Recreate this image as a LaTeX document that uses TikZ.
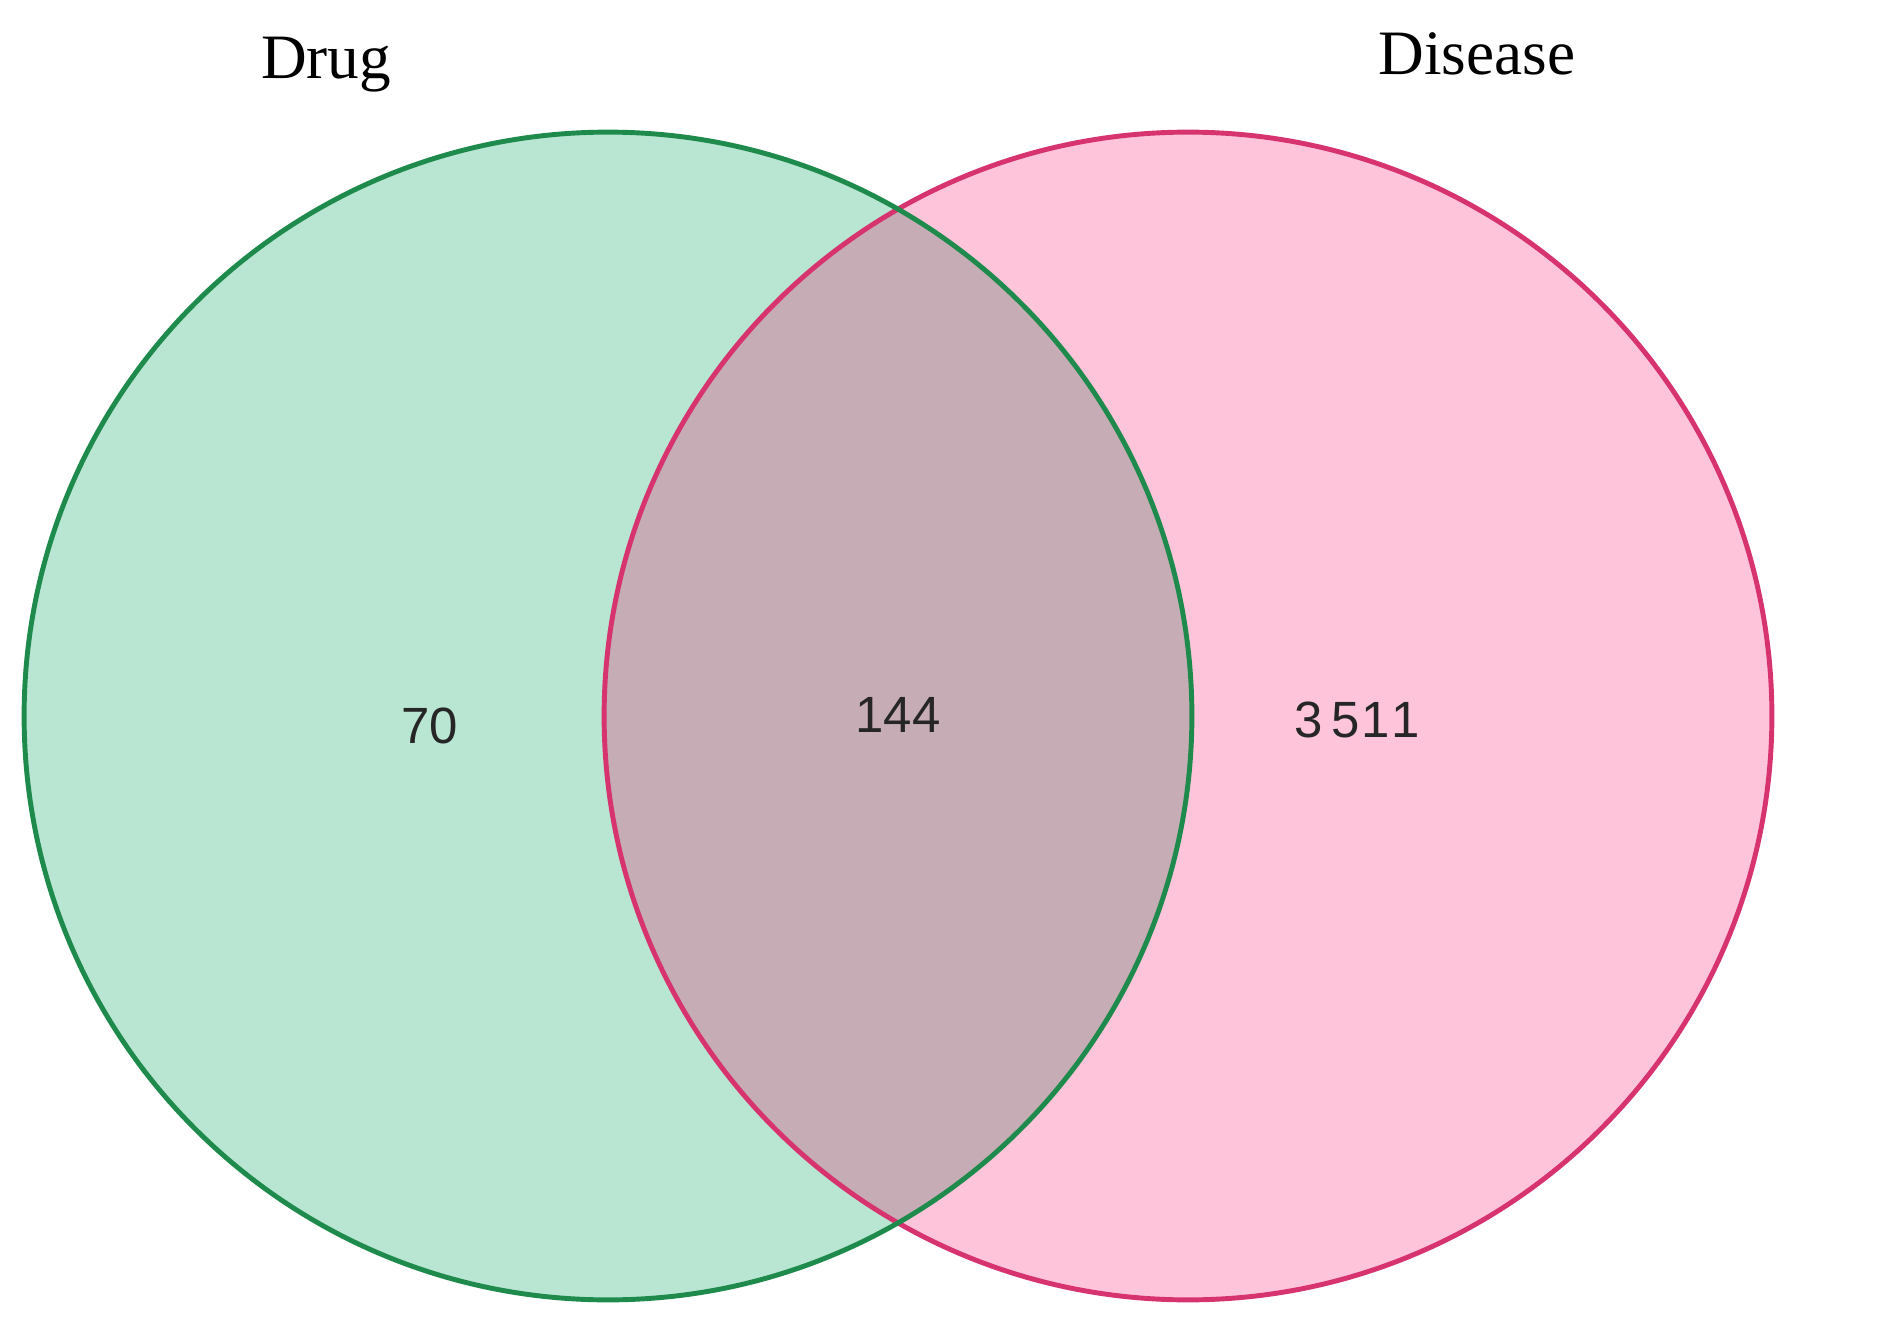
\documentclass[tikz,border=0pt]{standalone}
\usepackage{fontspec}
\setmainfont{Liberation Serif}
\newfontfamily\countfont{Liberation Sans}
\definecolor{drugfill}{RGB}{185,230,210}
\definecolor{drugline}{RGB}{30,138,76}
\definecolor{diseasefill}{RGB}{253,196,218}
\definecolor{diseaseline}{RGB}{214,51,111}
\definecolor{bothfill}{RGB}{198,172,180}

\tikzset{
    setlabel/.style={anchor=base, font=\fontsize{36}{40}\selectfont},
    count/.style={anchor=base, font=\countfont\fontsize{29}{32}\selectfont, text=black!85}
}

\begin{document}
\begin{tikzpicture}[x=0.02cm, y=-0.02cm]
    % Page size in pixels of the reference
    \useasboundingbox (0,0) rectangle (1890,1331);

    % Centres of the two sets
    \coordinate (DrugC) at (608,716);
    \coordinate (DisC) at (1188,716);

    % Fills
    \fill[drugfill] (DrugC) circle[radius=11.68cm];
    \fill[diseasefill] (DisC) circle[radius=11.68cm];
    \begin{scope}
        \clip (DrugC) circle[radius=11.68cm];
        \fill[bothfill] (DisC) circle[radius=11.68cm];
    \end{scope}

    % Outlines
    \draw[diseaseline, line width=2.8pt] (DisC) circle[radius=11.68cm];
    \draw[drugline, line width=2.8pt] (DrugC) circle[radius=11.68cm];

    % Set names
    \node[setlabel] (drug) at (326,79) {Drug};
    \node[setlabel] (disease) at (1477,75) {Disease};

    % Counts
    \node[count] (onlydrug) at (430,743) {70};
    \node[count] (both) at (898,732) {144};
    \node[count] (onlydisease) at (1357,737) {3\,5\kern1pt1\kern1pt1};
\end{tikzpicture}
\end{document}
